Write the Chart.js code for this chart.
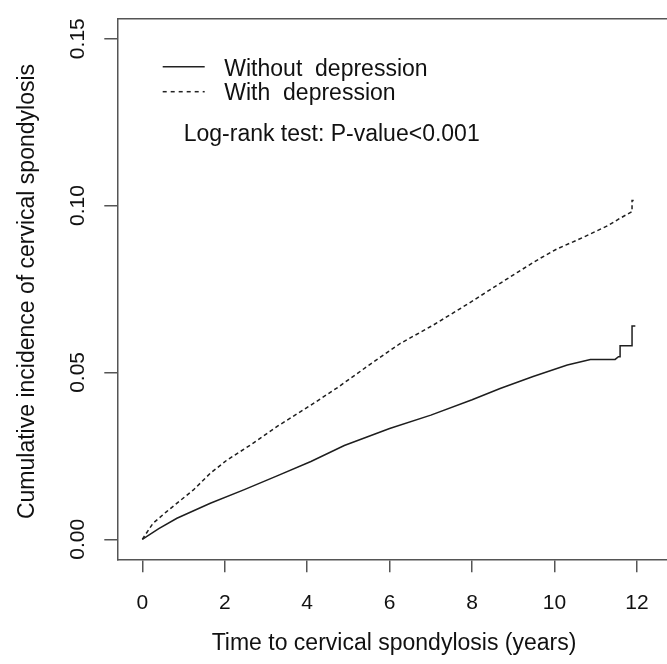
<!DOCTYPE html>
<html>
<head>
<meta charset="utf-8">
<script src="https://cdn.jsdelivr.net/npm/chart.js@4.4.1/dist/chart.umd.min.js"></script>
<style>
  html, body { margin: 0; padding: 0; background: #ffffff; overflow: hidden; }
  canvas { display: block; }
</style>
</head>
<body>
<canvas id="c" width="667" height="664"></canvas>
<script>
// ---- data ----
const xTickVals = [0, 2, 4, 6, 8, 10, 12];
const xTickLabels = ['0', '2', '4', '6', '8', '10', '12'];
const yTickVals = [0, 0.05, 0.10, 0.15];
const yTickLabels = ['0.00', '0.05', '0.10', '0.15'];

const seriesNames = ['Without  depression', 'With  depression'];
const annotationText = 'Log-rank test: P-value<0.001';
const xTitle = 'Time to cervical spondylosis (years)';
const yTitle = 'Cumulative incidence of cervical spondylosis';

// Without depression (solid)
const timesWithout = [0, 0.4, 0.84, 1.65, 2.46, 3.27, 4.09, 4.9, 6, 7, 8, 8.68, 9.48, 10.31, 10.87, 11.47, 11.55, 11.59, 11.59, 11.88, 11.88, 11.96];
const cumWithout   = [0, 0.0032, 0.0063, 0.0108, 0.0148, 0.0190, 0.0233, 0.0281, 0.0332, 0.0372, 0.0418, 0.0452, 0.0488, 0.0522, 0.0539, 0.0539, 0.0547, 0.0547, 0.0580, 0.0580, 0.0639, 0.0639];

// With depression (dashed)
const timesWith = [0, 0.26, 0.59, 1.24, 1.65, 2.06, 2.63, 3.28, 4.09, 4.74, 5.5, 6.26, 7.06, 7.88, 8.68, 9.1, 9.65, 10.06, 10.7, 11.28, 11.59, 11.88, 11.88, 11.92];
const cumWith   = [0, 0.0048, 0.0083, 0.0148, 0.0198, 0.0238, 0.0283, 0.0339, 0.0402, 0.0455, 0.0522, 0.0587, 0.0642, 0.0704, 0.0767, 0.0800, 0.0842, 0.0870, 0.0905, 0.0939, 0.0962, 0.0982, 0.1015, 0.1015];

const toPoints = (ts, vs) => ts.map((t, i) => ({ x: t, y: vs[i] }));

const FONT = '"Liberation Sans", Arial, Helvetica, sans-serif';
const TEXT = '#111111';
const AXIS = '#555555';

const decorPlugin = {
  id: 'decor',
  afterDraw(chart) {
    const ctx = chart.ctx;
    const ca = chart.chartArea;
    const xs = chart.scales.x;
    const ys = chart.scales.y;
    ctx.save();
    // top border of the box
    ctx.strokeStyle = AXIS;
    ctx.lineWidth = 1.5;
    ctx.beginPath();
    ctx.moveTo(ca.left, ca.top);
    ctx.lineTo(ca.right, ca.top);
    ctx.stroke();

    ctx.fillStyle = TEXT;
    // x tick labels
    ctx.font = '21px ' + FONT;
    ctx.textAlign = 'center';
    ctx.textBaseline = 'alphabetic';
    xTickVals.forEach((v, i) => {
      ctx.fillText(xTickLabels[i], xs.getPixelForValue(v), 608.5);
    });
    // y tick labels (rotated)
    yTickVals.forEach((v, i) => {
      ctx.save();
      ctx.translate(83.5, ys.getPixelForValue(v));
      ctx.rotate(-Math.PI / 2);
      ctx.fillText(yTickLabels[i], 0, 0);
      ctx.restore();
    });
    // axis titles
    ctx.font = '23px ' + FONT;
    ctx.fillText(xTitle, 394, 650);
    ctx.save();
    ctx.translate(33.5, 291.5);
    ctx.rotate(-Math.PI / 2);
    ctx.fillText(yTitle, 0, 0);
    ctx.restore();

    // legend
    ctx.strokeStyle = '#222222';
    ctx.lineWidth = 1.5;
    ctx.beginPath();
    ctx.moveTo(162.7, 66.7);
    ctx.lineTo(204.7, 66.7);
    ctx.stroke();
    ctx.setLineDash([4, 4]);
    ctx.beginPath();
    ctx.moveTo(162.7, 91.7);
    ctx.lineTo(204.7, 91.7);
    ctx.stroke();
    ctx.setLineDash([]);
    ctx.textAlign = 'left';
    ctx.font = '23px ' + FONT;
    ctx.fillText(seriesNames[0], 224.3, 75.5);
    ctx.fillText(seriesNames[1], 224.3, 100);
    ctx.fillText(annotationText, 183.7, 140.7);
    ctx.restore();
  }
};

new Chart(document.getElementById('c'), {
  type: 'line',
  data: {
    datasets: [
      {
        label: seriesNames[0],
        data: toPoints(timesWithout, cumWithout),
        borderColor: '#1e1e1e',
        borderWidth: 1.5,
        pointRadius: 0,
        tension: 0,
        fill: false
      },
      {
        label: seriesNames[1],
        data: toPoints(timesWith, cumWith),
        borderColor: '#1e1e1e',
        borderWidth: 1.5,
        borderDash: [4, 3],
        pointRadius: 0,
        tension: 0,
        fill: false
      }
    ]
  },
  options: {
    responsive: false,
    animation: false,
    devicePixelRatio: 1,
    layout: { padding: { left: 0, right: 0, top: 18.7, bottom: 0 } },
    plugins: { legend: { display: false }, tooltip: { enabled: false } },
    scales: {
      x: {
        type: 'linear',
        min: -0.6064,
        max: 12.728,
        ticks: { display: false, stepSize: 2, includeBounds: false },
        grid: { drawOnChartArea: false, drawTicks: true, tickLength: 13, color: AXIS, lineWidth: 1.5 },
        border: { display: true, color: AXIS, width: 1.5 },
        afterFit(scale) { scale.height = 104.7; }
      },
      y: {
        type: 'linear',
        min: -0.00599,
        max: 0.15599,
        ticks: { display: false, stepSize: 0.05, includeBounds: false },
        grid: { drawOnChartArea: false, drawTicks: true, tickLength: 13, color: AXIS, lineWidth: 1.5 },
        border: { display: true, color: AXIS, width: 1.5 },
        afterFit(scale) { scale.width = 117.3; }
      }
    }
  },
  plugins: [decorPlugin]
});
</script>
</body>
</html>
